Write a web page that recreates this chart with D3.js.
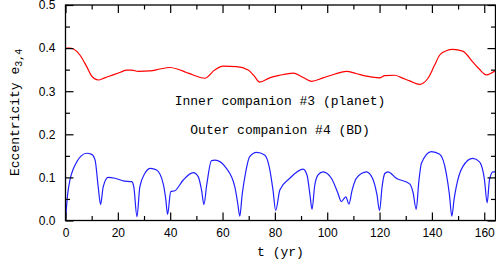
<!DOCTYPE html>
<html>
<head>
<meta charset="utf-8">
<script src="https://cdn.jsdelivr.net/npm/d3@7"></script>
<style>
  body { margin: 0; background: #fff; }
  svg { display: block; }
  .tick text { font-family: "Liberation Sans", Arial, sans-serif; font-size: 12px; fill: #000; }
  .mono { font-family: "Liberation Mono", "Courier New", monospace; font-size: 13px; fill: #000; }
</style>
</head>
<body>
<svg id="chart" width="496" height="262"></svg>
<script>
// inner companion #3 (planet)
const redT = [0, 1.5, 3, 5.5, 8.1, 10, 12.5, 15, 18.2, 21, 23.4, 25.3, 27.8, 32.3, 36.1, 39.9, 43, 46, 48.8, 53.2,
  57, 60.2, 65.3, 69.8, 72, 74.2, 78, 81.9, 87, 90.5, 94, 98.4, 103, 107.3, 111, 115, 120, 122, 125.8, 128.5,
  131.5, 135.3, 138.5, 141, 143, 145.5, 148, 151.8, 155.6, 158, 160.8, 164.3];
const redE = [0.400, 0.400, 0.398, 0.384, 0.357, 0.335, 0.326, 0.331, 0.338, 0.344, 0.349, 0.349, 0.346, 0.347, 0.3515, 0.355, 0.351, 0.344, 0.3375, 0.330,
  0.349, 0.358, 0.357, 0.349, 0.336, 0.321, 0.331, 0.337, 0.342, 0.333, 0.323, 0.331, 0.340, 0.346, 0.341, 0.335, 0.331, 0.336, 0.337, 0.331,
  0.324, 0.316, 0.330, 0.360, 0.384, 0.394, 0.397, 0.393, 0.368, 0.352, 0.338, 0.348];

// outer companion #4 (BD)
const blueT = [0, 0.8, 1.7, 3, 4.3, 6, 8.1, 10, 11.3, 12.5, 13.4, 14.4, 16.3, 18.9, 22, 25.3, 26.1, 27.3, 28.4, 30.3,
  32.5, 34.8, 37.3, 38.3, 39, 40.2, 41.8, 45, 48.8, 50.7, 52, 52.9, 53.9, 55.8, 57.1, 61.5, 64.7, 65.8, 66.6, 67.5,
  68.5, 70.4, 73, 76.1, 78, 79.3, 80.3, 81.9, 85.7, 90.8, 92.3, 93.4, 94.2, 95.2, 96.5, 98.4, 101.6, 104, 105.4, 106.3,
  107.1, 108.3, 109.5, 111.1, 115, 117.3, 119, 120, 121, 122, 123.2, 126.4, 131.5, 132.8, 134, 135, 136, 139.8, 143, 145.5,
  146.7, 147.6, 148.5, 149.3, 151.8, 155.6, 158.2, 160.1, 161.1, 162, 163.3, 164.3];
const blueE = [0, 0.06, 0.094, 0.12, 0.136, 0.150, 0.156, 0.1535, 0.140, 0.078, 0.037, 0.078, 0.100, 0.098, 0.092, 0.090, 0.078, 0.009, 0.078, 0.109,
  0.121, 0.117, 0.086, 0.05, 0.014, 0.067, 0.069, 0.094, 0.111, 0.1017, 0.07, 0.037, 0.08, 0.139, 0.140, 0.121, 0.078, 0.04, 0.010, 0.06,
  0.10, 0.148, 0.158, 0.152, 0.120, 0.07, 0.023, 0.071, 0.098, 0.119, 0.105, 0.06, 0.026, 0.08, 0.1056, 0.113, 0.098, 0.065, 0.044, 0.05,
  0.055, 0.038, 0.07, 0.098, 0.113, 0.098, 0.06, 0.023, 0.08, 0.109, 0.113, 0.098, 0.085, 0.065, 0.026, 0.09, 0.133, 0.160, 0.1535, 0.109,
  0.06, 0.010, 0.05, 0.078, 0.125, 0.144, 0.136, 0.094, 0.041, 0.094, 0.113, 0.113];

const xMajor = [0, 20, 40, 60, 80, 100, 120, 140, 160];
const xMinor = [10, 30, 50, 70, 90, 110, 130, 150];
const yMajor = [0, 0.1, 0.2, 0.3, 0.4, 0.5];
const yMinor = [0.05, 0.15, 0.25, 0.35, 0.45];

const svg = d3.select("#chart");
const mLeft = 65.5, mRight = 495.5, mTop = 5, mBottom = 220.5;

const x = d3.scaleLinear().domain([0, 164.3]).range([mLeft, mRight]);
const y = d3.scaleLinear().domain([0, 0.5]).range([mBottom, mTop]);

svg.append("clipPath").attr("id", "clip")
  .append("rect").attr("x", mLeft).attr("y", mTop).attr("width", mRight - mLeft).attr("height", mBottom - mTop);

const line = (ts, es) => d3.line()
  .x((d, i) => x(ts[i]))
  .y((d, i) => y(es[i]))
  .curve(d3.curveMonotoneX)(ts);

const g = svg.append("g").attr("clip-path", "url(#clip)");
g.append("path").attr("d", line(redT, redE))
  .attr("fill", "none").attr("stroke", "#ff0000").attr("stroke-width", 1.2);
g.append("path").attr("d", line(blueT, blueE))
  .attr("fill", "none").attr("stroke", "#2020ff").attr("stroke-width", 1.2);

function addAxis(axis, tr, values, size, pad, fmt) {
  const a = svg.append("g").attr("transform", tr)
    .call(axis.tickValues(values).tickSize(-size).tickPadding(pad).tickFormat(fmt));
  a.select(".domain").remove();
  a.selectAll("line").attr("stroke", "#000").attr("stroke-width", 1.2);
  return a;
}
const none = () => "";

addAxis(d3.axisBottom(x), `translate(0,${mBottom})`, xMajor, 8, 8, d3.format("d"));
addAxis(d3.axisBottom(x), `translate(0,${mBottom})`, xMinor, 4.5, 0, none);
addAxis(d3.axisTop(x), `translate(0,${mTop})`, xMajor, 8, 0, none);
addAxis(d3.axisTop(x), `translate(0,${mTop})`, xMinor, 4.5, 0, none);
addAxis(d3.axisLeft(y), `translate(${mLeft},0)`, yMajor, 8, 10, d3.format(".1f"));
addAxis(d3.axisLeft(y), `translate(${mLeft},0)`, yMinor, 4.5, 0, none);
addAxis(d3.axisRight(y), `translate(${mRight},0)`, yMajor, 8, 0, none);
addAxis(d3.axisRight(y), `translate(${mRight},0)`, yMinor, 4.5, 0, none);

svg.append("rect")
  .attr("x", mLeft).attr("y", mTop).attr("width", mRight - mLeft).attr("height", mBottom - mTop)
  .attr("fill", "none").attr("stroke", "#000").attr("stroke-width", 1.3);

svg.append("text").attr("class", "mono")
  .attr("x", (mLeft + mRight) / 2).attr("y", 256).attr("text-anchor", "middle")
  .text("t (yr)");

const yl = svg.append("text").attr("class", "mono")
  .attr("transform", "translate(18.5,176) rotate(-90)");
yl.append("tspan").text("Eccentricity  e");
yl.append("tspan").attr("dy", 3.5).attr("font-size", 10).text("3,4");

svg.append("text").attr("class", "mono")
  .attr("x", 280).attr("y", 105).attr("text-anchor", "middle")
  .text("Inner companion #3 (planet)");
svg.append("text").attr("class", "mono")
  .attr("x", 280).attr("y", 134).attr("text-anchor", "middle")
  .text("Outer companion #4 (BD)");
</script>
</body>
</html>
